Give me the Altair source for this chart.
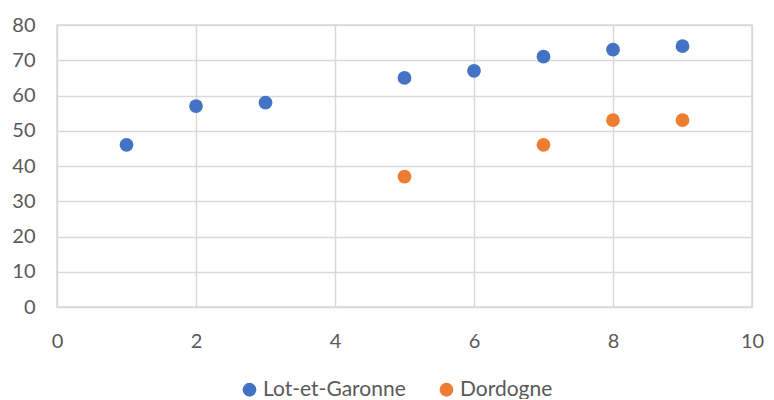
import altair as alt
import pandas as pd

lot_x = [1, 2, 3, 5, 6, 7, 8, 9]
lot_y = [46, 57, 58, 65, 67, 71, 73, 74]
dor_x = [5, 7, 8, 9]
dor_y = [37, 46, 53, 53]
series = ["Lot-et-Garonne", "Dordogne"]
colors = ["#4472C4", "#ED7D31"]

df = pd.DataFrame(
    {"x": lot_x + dor_x,
     "y": lot_y + dor_y,
     "s": [series[0]] * len(lot_x) + [series[1]] * len(dor_x)}
)

font = "Lato"
fs = 20
chart = alt.Chart(df).mark_circle(size=190, opacity=1).encode(
    x=alt.X("x:Q", scale=alt.Scale(domain=[0, 10], nice=False),
            axis=alt.Axis(values=[0, 2, 4, 6, 8, 10], title=None, ticks=False, domain=False,
                          labelFlush=False, labelPadding=24, labelFontSize=fs, labelColor="#595959",
                          labelFont=font, gridColor="#d9d9d9", gridWidth=1.5)),
    y=alt.Y("y:Q", scale=alt.Scale(domain=[0, 80], nice=False),
            axis=alt.Axis(values=list(range(0, 81, 10)), title=None, ticks=False, domain=False,
                          labelFlush=False, labelPadding=22, labelFontSize=fs, labelColor="#595959",
                          labelFont=font, gridColor="#d9d9d9", gridWidth=1.5)),
    color=alt.Color("s:N", scale=alt.Scale(domain=series, range=colors), sort=series,
                    legend=alt.Legend(title=None, orient="none", direction="horizontal",
                                      legendX=182, legendY=354, symbolType="circle", symbolSize=190,
                                      labelFontSize=21, labelColor="#595959", labelFont=font,
                                      columnPadding=30, labelOffset=3, symbolStrokeWidth=0)),
).properties(
    width=695, height=282,
    autosize=alt.AutoSizeParams(type="none"),
    padding={"left": 49, "top": 17, "right": 14, "bottom": 92},
).configure_view(stroke="#d9d9d9", strokeWidth=1.5)

chart.save("out.html", embed_options={"renderer": "svg", "actions": False})
